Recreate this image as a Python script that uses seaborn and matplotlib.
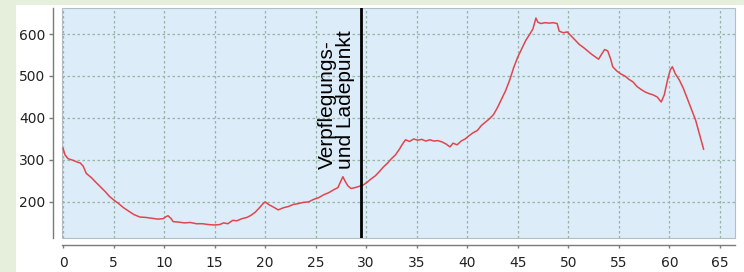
"""
plot.py
-------
Hoehenprofil der Strecke mit Markierung des Verpflegungs- und Ladepunkts.
Writes out.png (744x272).
"""

import matplotlib
matplotlib.use("Agg")
import matplotlib.pyplot as plt
import pandas as pd
import seaborn as sns
from matplotlib.patches import Rectangle

# distance along the route (km)
DISTANCE = [
    0, 0.2, 0.5, 1.0, 1.5, 1.7, 2.0, 2.3, 2.8, 3.2, 3.7, 4.2, 4.6, 5.0, 5.5,
    6.0, 6.5, 7.0, 7.6, 8.2, 8.8, 9.4, 9.9, 10.2, 10.4, 10.7, 10.9, 11.4, 12.0,
    12.6, 13.2, 13.8, 14.4, 15.0, 15.5, 15.9, 16.3, 16.8, 17.2, 17.7, 18.2,
    18.6, 19.0, 19.4, 19.8, 20.0, 20.4, 20.8, 21.3, 21.8, 22.3, 22.8, 23.3,
    23.8, 24.3, 24.8, 25.3, 25.8, 26.3, 26.8, 27.2, 27.5, 27.7, 27.9, 28.2,
    28.5, 28.9, 29.3, 29.7, 30.1, 30.5, 30.9, 31.3, 31.7, 32.1, 32.5, 32.9,
    33.3, 33.6, 33.9, 34.3, 34.7, 35.1, 35.5, 35.9, 36.3, 36.7, 37.1, 37.5,
    37.9, 38.3, 38.6, 39.0, 39.4, 39.8, 40.2, 40.6, 41.0, 41.4, 41.8, 42.2,
    42.6, 43.0, 43.4, 43.8, 44.2, 44.6, 45.0, 45.4, 45.8, 46.2, 46.5, 46.8,
    47.0, 47.3, 47.7, 48.1, 48.5, 48.9, 49.1, 49.5, 49.9, 50.3, 50.7, 51.1,
    51.5, 51.9, 52.3, 52.7, 53.0, 53.3, 53.6, 53.9, 54.2, 54.4, 54.8, 55.2,
    55.6, 56.0, 56.4, 56.8, 57.2, 57.6, 58.0, 58.4, 58.8, 59.2, 59.5, 59.8,
    60.1, 60.3, 60.6, 61.0, 61.4, 61.8, 62.2, 62.6, 63.0, 63.4,
]

# elevation (m)
ELEVATION = [
    328, 312, 303, 299, 294, 293, 285, 268, 258, 248, 236, 224, 213, 205, 196,
    186, 178, 170, 164, 163, 161, 159, 160, 165, 167, 160, 153, 152, 150,
    151, 148, 148, 146, 145, 146, 150, 148, 156, 155, 160, 163,
    168, 175, 185, 196, 200, 193, 188, 181, 186, 189, 194, 196,
    199, 200, 206, 210, 217, 222, 229, 234, 250, 260, 250, 238,
    232, 234, 237, 240, 247, 255, 262, 272, 283, 292, 303, 312,
    326, 338, 348, 344, 350, 347, 349, 345, 348, 345, 346, 343,
    338, 331, 340, 336, 345, 350, 358, 365, 370, 382, 390, 398,
    408, 425, 445, 465, 490, 520, 545, 565, 585, 600, 612, 638,
    628, 625, 627, 626, 627, 625, 607, 603, 605, 595, 585, 575,
    568, 560, 552, 545, 540, 552, 563, 560, 540, 522, 512, 505,
    500, 492, 486, 475, 468, 462, 458, 455, 450, 438, 455, 488,
    515, 522, 505, 490, 470, 445, 420, 395, 360, 325,
]

X_TICKS = list(range(0, 70, 5))
Y_TICKS = [200, 300, 400, 500, 600]

STOP_KM = 29.5
STOP_LABEL = "Verpflegungs-\nund Ladepunkt"


def main():
    sns.set_style("ticks")
    plt.rcParams["font.family"] = ["DejaVu Sans"]

    df = pd.DataFrame({"km": DISTANCE, "hoehe": ELEVATION})

    fig = plt.figure(figsize=(7.44, 2.72), dpi=100, facecolor="#e6efdc")
    # white card behind the chart
    fig.patches.append(Rectangle((16 / 744, 0), 1, 1 - 5 / 272,
                                 transform=fig.transFigure,
                                 facecolor="white", edgecolor="none", zorder=0))
    ax = fig.add_axes([62 / 744, 34 / 272, 673 / 744, 230 / 272])
    ax.set_zorder(2)
    ax.set_facecolor("#dcecf8")
    ax.patch.set_edgecolor("#b4bcc4")
    ax.patch.set_linewidth(0.8)

    sns.lineplot(data=df, x="km", y="hoehe", ax=ax, color="#e0464e",
                 linewidth=1.1, zorder=3)

    ax.set_xlim(-0.1, 66.5)
    ax.set_ylim(114, 662)
    ax.set_xticks(X_TICKS)
    ax.set_yticks(Y_TICKS)
    ax.set_xlabel("")
    ax.set_ylabel("")

    ax.grid(True, color="#98b4a4", linestyle=(0, (2, 2)), linewidth=0.9)
    ax.set_axisbelow(True)

    # detached axes lines like the original
    for side in ("top", "right"):
        ax.spines[side].set_visible(False)
    ax.spines["left"].set_position(("outward", 6.5))
    ax.spines["bottom"].set_position(("outward", 5))
    for side in ("left", "bottom"):
        ax.spines[side].set_color("#7a7a7a")
        ax.spines[side].set_linewidth(1.0)
    ax.tick_params(axis="both", colors="#7a7a7a", width=1,
                   labelcolor="#222222", labelsize=10)
    ax.tick_params(axis="x", length=2.2, pad=6)
    ax.tick_params(axis="y", length=3, pad=2.5)

    ax.axvline(STOP_KM, color="black", linewidth=2, zorder=4)
    ax.text(28.9, 278, STOP_LABEL, rotation=90, ha="right", va="bottom",
            multialignment="left", fontsize=15, color="black",
            family=["Liberation Sans", "DejaVu Sans"], linespacing=0.95,
            zorder=5)

    fig.savefig("out.png", dpi=100, facecolor=fig.get_facecolor())
    plt.close(fig)


if __name__ == "__main__":
    main()
